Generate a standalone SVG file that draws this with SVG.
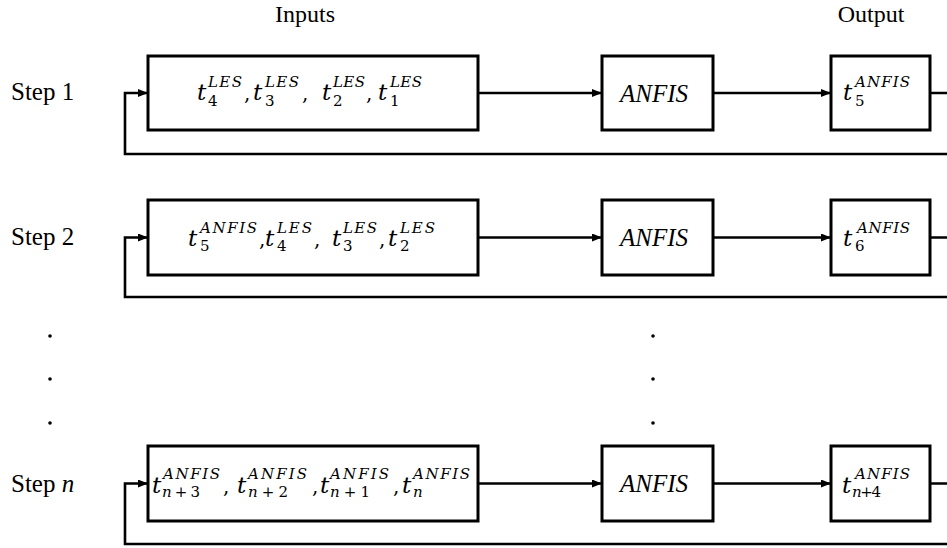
<svg xmlns="http://www.w3.org/2000/svg" width="947" height="548" viewBox="0 0 947 548" font-family="'Liberation Serif', serif">
<style>
.box{fill:#fff;stroke:#000;stroke-width:3}
.ln{fill:none;stroke:#000;stroke-width:2.6}
</style>
<defs>
<marker id="ah" markerUnits="userSpaceOnUse" markerWidth="10" markerHeight="8" refX="10" refY="4" orient="auto">
<path d="M0,0 L10,4 L0,8 z" fill="#000"/>
</marker>
</defs>

<g font-family="'Liberation Serif', serif" font-size="24">
<text x="305" y="22" text-anchor="middle">Inputs</text>
<text x="871" y="22" text-anchor="middle">Output</text>
</g>

<g id="connectors">
<path class="ln" d="M478,93 H602" marker-end="url(#ah)"/>
<path class="ln" d="M713,93 H831" marker-end="url(#ah)"/>
<path class="ln" d="M930,93 H952 V154 H125 V93 H148" marker-end="url(#ah)"/>
<path class="ln" d="M478,237.5 H602" marker-end="url(#ah)"/>
<path class="ln" d="M713,237.5 H831" marker-end="url(#ah)"/>
<path class="ln" d="M930,237.5 H952 V297 H125 V237.5 H148" marker-end="url(#ah)"/>
<path class="ln" d="M478,483.5 H602" marker-end="url(#ah)"/>
<path class="ln" d="M713,483.5 H831" marker-end="url(#ah)"/>
<path class="ln" d="M930,483.5 H952 V544 H125 V483.5 H148" marker-end="url(#ah)"/>
</g>

<g id="step1" font-family="'Liberation Serif', serif" font-size="25">
<text x="11" y="100">Step 1</text>
</g>
<g id="inputs1" font-family="'DejaVu Serif', serif">
<rect class="box" x="148" y="56" width="330" height="74"/>
<g font-style="italic" font-size="23"><text x="197" y="100">t</text><text x="253" y="100">t</text><text x="322" y="100">t</text><text x="378" y="100">t</text></g>
<g font-style="italic" font-size="15"><text x="208" y="87" textLength="34">LES</text><text x="265" y="87" textLength="34">LES</text><text x="333" y="87" textLength="32">LES</text><text x="390" y="87" textLength="32">LES</text></g>
<g font-size="15"><text x="208" y="106">4</text><text x="265" y="106">3</text><text x="333" y="106">2</text><text x="390" y="106">1</text></g>
<g font-size="20"><text x="244" y="100">,</text><text x="302" y="100">,</text><text x="366" y="100">,</text></g>
</g>
<g id="anfis1">
<rect class="box" x="602" y="56" width="111" height="74"/>
<text x="654" y="102" text-anchor="middle" font-family="'Liberation Serif', serif" font-style="italic" font-size="25">ANFIS</text>
</g>
<g id="output1" font-family="'DejaVu Serif', serif">
<rect class="box" x="831" y="56" width="99" height="74"/>
<text x="843" y="100" font-style="italic" font-size="23">t</text><text x="855" y="87" font-style="italic" font-size="15" textLength="55">ANFIS</text><text x="855" y="106" font-size="15">5</text>
</g>

<g id="step2" font-family="'Liberation Serif', serif" font-size="25">
<text x="11" y="245">Step 2</text>
</g>
<g id="inputs2" font-family="'DejaVu Serif', serif">
<rect class="box" x="148" y="200" width="330" height="75"/>
<g font-style="italic" font-size="23"><text x="188" y="246">t</text><text x="265" y="246">t</text><text x="332" y="246">t</text><text x="388" y="246">t</text></g>
<g font-style="italic" font-size="15"><text x="200" y="233" textLength="57">ANFIS</text><text x="277" y="233" textLength="35">LES</text><text x="343" y="233" textLength="34">LES</text><text x="400" y="233" textLength="35">LES</text></g>
<g font-size="15"><text x="200" y="251">5</text><text x="277" y="251">4</text><text x="343" y="251">3</text><text x="400" y="251">2</text></g>
<g font-size="20"><text x="259" y="246">,</text><text x="314" y="246">,</text><text x="379" y="246">,</text></g>
</g>
<g id="anfis2">
<rect class="box" x="602" y="200" width="111" height="75"/>
<text x="654" y="246" text-anchor="middle" font-family="'Liberation Serif', serif" font-style="italic" font-size="25">ANFIS</text>
</g>
<g id="output2" font-family="'DejaVu Serif', serif">
<rect class="box" x="831" y="200" width="99" height="75"/>
<text x="843" y="246" font-style="italic" font-size="23">t</text><text x="857" y="233" font-style="italic" font-size="15" textLength="53">ANFIS</text><text x="855" y="251" font-size="15">6</text>
</g>

<g id="dots">
<circle cx="50" cy="336" r="1.8"/><circle cx="50" cy="379" r="1.8"/><circle cx="50" cy="423" r="1.8"/>
<circle cx="653" cy="336" r="1.8"/><circle cx="653" cy="379" r="1.8"/><circle cx="653" cy="423" r="1.8"/>
</g>

<g id="stepn" font-family="'Liberation Serif', serif" font-size="25">
<text x="11" y="492">Step <tspan font-style="italic">n</tspan></text>
</g>
<g id="inputsn" font-family="'DejaVu Serif', serif">
<rect class="box" x="148" y="446" width="330" height="75"/>
<g font-style="italic" font-size="23"><text x="152" y="493">t</text><text x="237" y="493">t</text><text x="320" y="493">t</text><text x="402" y="493">t</text></g>
<g font-style="italic" font-size="15"><text x="163" y="479" textLength="57">ANFIS</text><text x="248" y="479" textLength="59">ANFIS</text><text x="330" y="479" textLength="59">ANFIS</text><text x="413" y="479" textLength="57">ANFIS</text></g>
<g font-size="15"><text x="162" y="497" textLength="38"><tspan font-style="italic">n</tspan>+3</text><text x="248" y="497" textLength="40"><tspan font-style="italic">n</tspan>+2</text><text x="330" y="497" textLength="40"><tspan font-style="italic">n</tspan>+1</text><text x="413" y="497" font-style="italic">n</text></g>
<g font-size="20"><text x="223" y="493">,</text><text x="312" y="493">,</text><text x="393" y="493">,</text></g>
</g>
<g id="anfisn">
<rect class="box" x="602" y="446" width="111" height="75"/>
<text x="654" y="492" text-anchor="middle" font-family="'Liberation Serif', serif" font-style="italic" font-size="25">ANFIS</text>
</g>
<g id="outputn" font-family="'DejaVu Serif', serif">
<rect class="box" x="831" y="446" width="99" height="75"/>
<text x="842" y="493" font-style="italic" font-size="23">t</text><text x="855" y="479" font-style="italic" font-size="15" textLength="55">ANFIS</text><text x="852" y="497" font-size="15" textLength="29"><tspan font-style="italic">n</tspan>+4</text>
</g>
</svg>
